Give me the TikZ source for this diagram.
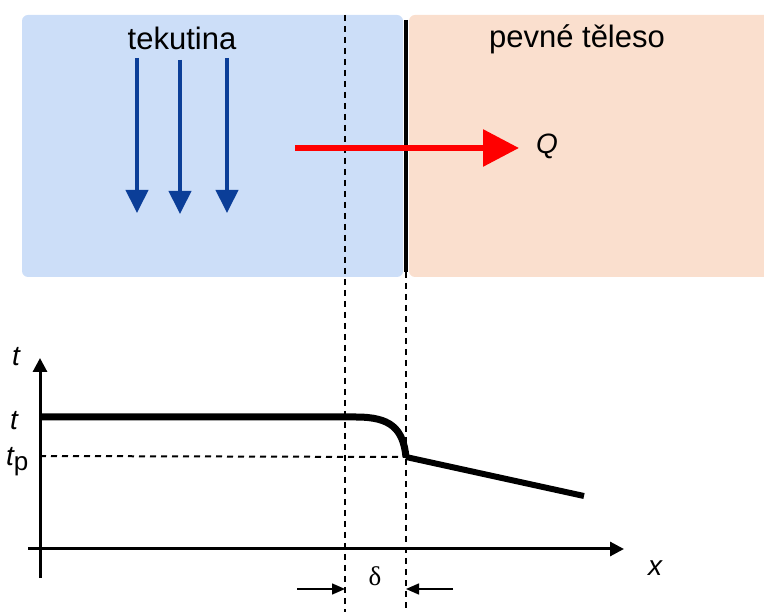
\documentclass[tikz,border=0pt]{standalone}
\usepackage{fontspec}
\setmainfont{Liberation Sans}
\newfontfamily\serifgr{Liberation Serif}
\usetikzlibrary{arrows.meta}
\definecolor{fluidbg}{HTML}{CCDEF8}
\definecolor{solidbg}{HTML}{FADFCE}
\definecolor{flowblue}{HTML}{0B3E98}
\definecolor{heatred}{HTML}{FF0000}
\begin{document}
\begin{tikzpicture}[x=1pt,y=-1pt,
  lbl/.style={inner sep=0pt,font=\fontsize{31}{34}\selectfont},
  axlbl/.style={inner sep=0pt,font=\fontsize{28}{30}\selectfont\itshape},
  flow/.style={draw=flowblue,line width=4pt,-{Triangle[length=23pt,width=22pt]}},
  dashln/.style={draw=black,line width=2pt,dash pattern=on 6pt off 5pt},
  axis/.style={draw=black,line width=3pt,-{Triangle[length=14pt,width=14pt]}},
  dimarr/.style={draw=black,line width=1.5pt,-{Triangle[length=13pt,width=11pt]}},
  profile/.style={draw=black,line width=7pt}]
\useasboundingbox (0,0) rectangle (764,612);
% regions
\fill[fluidbg,rounded corners=6pt] (22,15) rectangle (403,277);
\fill[solidbg,rounded corners=6pt] (409,15) rectangle (790,277);
% wall and boundary layer lines
\coordinate (wallT) at (406,20);
\coordinate (wallB) at (406,272);
\coordinate (wallE) at (406,612);
\coordinate (blT) at (345,15);
\coordinate (blE) at (345,612);
\draw[line width=3.5pt] (wallT) -- (wallB);
\draw[dashln] (wallB) -- (wallE);
\draw[dashln] (blT) -- (blE);
% labels
\node[lbl] (tek) at (182,38) {tekutina};
\node[lbl] (pev) at (577,39) {pevné těleso};
% flow arrows
\coordinate (f1a) at (137,58); \coordinate (f1b) at (137,213);
\coordinate (f2a) at (180,60); \coordinate (f2b) at (180,214);
\coordinate (f3a) at (227,58); \coordinate (f3b) at (227,213);
\draw[flow] (f1a) -- (f1b);
\draw[flow] (f2a) -- (f2b);
\draw[flow] (f3a) -- (f3b);
% heat flow
\node[inner sep=0pt,font=\fontsize{28}{30}\selectfont\itshape] (Q) at (547,146) {Q};
\coordinate (qs) at (295,148);
\coordinate (qe) at (519,148);
\draw[draw=heatred,line width=6pt,-{Triangle[length=36pt,width=36pt]}] (qs) -- (qe);
% axes
\coordinate (yb) at (40,578);
\coordinate (yt) at (40,358);
\coordinate (xl) at (28,549);
\coordinate (xr) at (624,549);
\draw[axis] (yb) -- (yt);
\draw[axis] (xl) -- (xr);
\node[axlbl] (tax) at (16,357) {t};
\node[axlbl] (xax) at (655,568) {x};
\node[axlbl] (tlev) at (14,421) {t};
\node[axlbl,anchor=base west] (tp) at (6,466) {t\upshape\fontsize{26}{28}\selectfont\raisebox{-5pt}{p}};
% temperature profile
\coordinate (p0) at (40,417);
\coordinate (p1) at (356,417);
\coordinate (p2) at (406,457);
\coordinate (p3) at (584,496);
\coordinate (tpl) at (40,456);
\draw[dashln] (tpl) -- (p2);
\draw[profile,line join=round] (p0) -- (p1) .. controls (390,417) and (403,428) .. (p2);
\draw[draw=black,line width=6pt] (p2) -- (p3);
% delta
\coordinate (dl) at (297,589);
\coordinate (dlt) at (345,589);
\coordinate (dr) at (453,589);
\coordinate (drt) at (406,589);
\draw[dimarr] (dl) -- (dlt);
\draw[dimarr] (dr) -- (drt);
\node[inner sep=0pt,font=\serifgr\fontsize{27}{30}\selectfont] (delta) at (375,576) {δ};
\end{tikzpicture}
\end{document}
